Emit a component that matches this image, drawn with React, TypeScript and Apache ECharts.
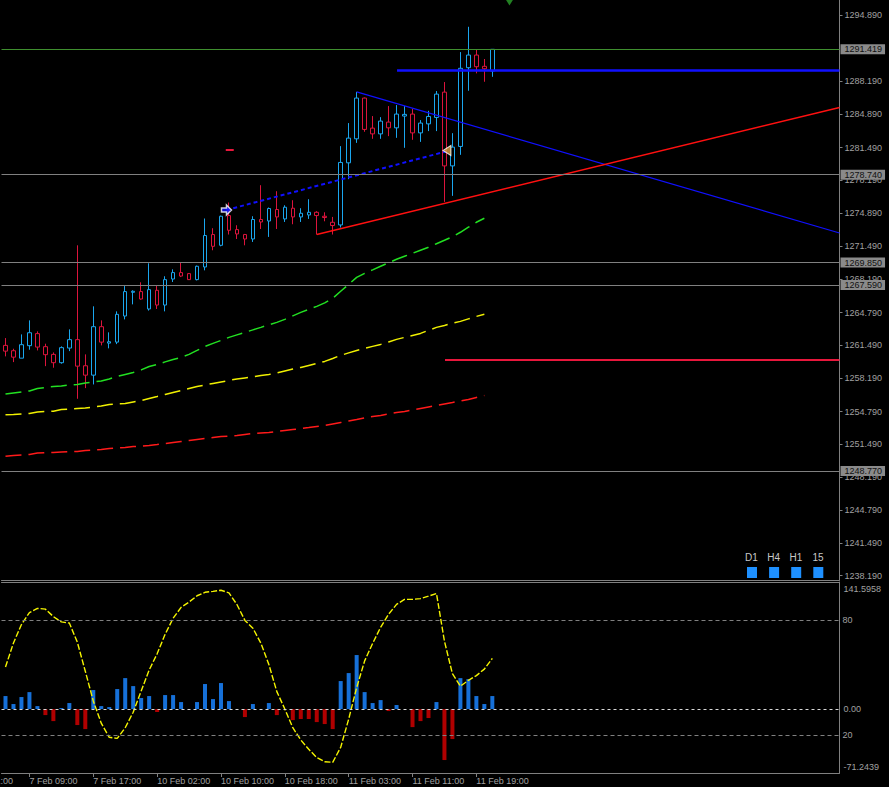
import React, { useEffect, useRef } from "react";
import * as echarts from "echarts";

// ---------- data ----------
const times = [
  "7 Feb 06:00", "7 Feb 07:00", "7 Feb 08:00", "7 Feb 09:00", "7 Feb 10:00", "7 Feb 11:00", "7 Feb 12:00",
  "7 Feb 13:00", "7 Feb 14:00", "7 Feb 15:00", "7 Feb 16:00", "7 Feb 17:00", "7 Feb 18:00", "7 Feb 19:00",
  "7 Feb 20:00", "7 Feb 21:00", "7 Feb 22:00",
  "10 Feb 00:00", "10 Feb 01:00", "10 Feb 02:00", "10 Feb 03:00", "10 Feb 04:00", "10 Feb 05:00", "10 Feb 06:00",
  "10 Feb 07:00", "10 Feb 08:00", "10 Feb 09:00", "10 Feb 10:00", "10 Feb 11:00", "10 Feb 12:00", "10 Feb 13:00",
  "10 Feb 14:00", "10 Feb 15:00", "10 Feb 16:00", "10 Feb 17:00", "10 Feb 18:00", "10 Feb 19:00", "10 Feb 20:00",
  "10 Feb 21:00", "10 Feb 22:00",
  "11 Feb 00:00", "11 Feb 01:00", "11 Feb 02:00", "11 Feb 03:00", "11 Feb 04:00", "11 Feb 05:00", "11 Feb 06:00",
  "11 Feb 07:00", "11 Feb 08:00", "11 Feb 09:00", "11 Feb 10:00", "11 Feb 11:00", "11 Feb 12:00", "11 Feb 13:00",
  "11 Feb 14:00", "11 Feb 15:00", "11 Feb 16:00", "11 Feb 17:00", "11 Feb 18:00", "11 Feb 19:00", "11 Feb 20:00",
  "11 Feb 21:00",
];
const timeLabelIdx = [3, 11, 19, 27, 35, 43, 51, 59];
const hiddenLeftLabel = "7 Feb 01:00";

const open = [
  1261.48, 1260.94, 1260.19, 1261.45, 1262.67, 1261.35, 1260.57, 1259.73, 1261.21, 1262.06,
  1259.42, 1258.47, 1263.37, 1261.71, 1261.81, 1264.45, 1266.85, 1266.92, 1265.16, 1267.05,
  1265.56, 1268.19, 1268.84, 1268.74, 1268.13, 1269.41, 1272.69, 1271.60, 1274.61, 1273.19,
  1272.69, 1272.24, 1274.21, 1274.06, 1275.22, 1274.27, 1275.35, 1274.47, 1274.67, 1274.94,
  1274.54, 1273.93, 1273.66, 1279.94, 1282.37, 1286.49, 1283.45, 1282.87, 1284.06, 1283.48,
  1284.67, 1284.87, 1282.97, 1283.88, 1284.53, 1287.09, 1279.63, 1281.60, 1289.56, 1290.84,
  1289.70, 1289.22,
];
const high = [
  1262.22, 1261.14, 1262.59, 1264.01, 1262.90, 1261.65, 1260.77, 1261.38, 1263.10, 1271.60,
  1260.57, 1265.43, 1264.01, 1262.80, 1264.92, 1267.48, 1267.05, 1267.86, 1269.78, 1267.55,
  1268.47, 1269.17, 1269.85, 1268.80, 1269.55, 1274.31, 1273.33, 1274.60, 1275.93, 1273.63,
  1272.75, 1274.54, 1277.68, 1275.42, 1277.07, 1275.65, 1276.16, 1275.35, 1276.26, 1275.05,
  1274.94, 1274.47, 1281.63, 1283.96, 1287.12, 1286.55, 1284.67, 1284.56, 1285.68, 1285.78,
  1285.68, 1285.40, 1284.26, 1285.20, 1287.20, 1288.11, 1282.94, 1291.14, 1293.70, 1291.42,
  1290.44, 1291.42,
];
const low = [
  1260.37, 1259.79, 1260.19, 1261.04, 1260.97, 1259.38, 1259.22, 1259.63, 1260.90, 1256.08,
  1257.16, 1257.53, 1261.48, 1261.18, 1261.61, 1264.11, 1265.63, 1266.10, 1265.00, 1265.16,
  1264.92, 1267.89, 1268.39, 1268.10, 1268.05, 1269.07, 1271.10, 1271.50, 1272.69, 1272.24,
  1271.60, 1271.94, 1273.25, 1272.45, 1273.25, 1273.96, 1273.73, 1273.96, 1274.27, 1272.69,
  1274.03, 1272.69, 1273.40, 1278.29, 1281.96, 1283.08, 1282.37, 1282.37, 1282.64, 1282.47,
  1281.46, 1282.27, 1282.06, 1283.15, 1283.15, 1275.99, 1276.60, 1280.75, 1287.23, 1288.99,
  1288.14, 1288.64,
];
const close = [
  1260.90, 1260.29, 1261.55, 1262.76, 1261.31, 1260.54, 1259.73, 1261.25, 1262.06, 1259.38,
  1258.47, 1263.37, 1261.81, 1261.85, 1264.62, 1266.92, 1266.95, 1266.17, 1267.12, 1265.56,
  1268.13, 1268.84, 1268.49, 1268.13, 1269.48, 1272.59, 1271.50, 1274.54, 1273.12, 1272.75,
  1272.24, 1274.21, 1273.96, 1275.32, 1274.47, 1275.45, 1274.47, 1274.84, 1274.94, 1274.61,
  1274.41, 1273.60, 1279.98, 1282.44, 1286.49, 1283.32, 1282.87, 1284.16, 1283.48, 1284.87,
  1284.84, 1282.97, 1283.96, 1284.63, 1286.89, 1279.63, 1281.53, 1289.50, 1290.84, 1289.66,
  1289.45, 1291.42,
];

const maFast = [
  1256.57, 1256.67, 1256.77, 1256.87, 1257.12, 1257.22, 1257.32, 1257.38, 1257.48, 1257.53,
  1257.68, 1257.78, 1257.88, 1258.09, 1258.34, 1258.54, 1258.74, 1259.00, 1259.35, 1259.55,
  1259.81, 1260.06, 1260.26, 1260.57, 1260.97, 1261.38, 1261.68, 1261.98, 1262.29, 1262.54,
  1262.79, 1263.05, 1263.30, 1263.56, 1263.81, 1264.11, 1264.47, 1264.82, 1265.12, 1265.43,
  1265.78, 1266.24, 1266.95, 1267.65, 1268.36, 1268.77, 1269.12, 1269.48, 1269.83, 1270.19,
  1270.49, 1270.79, 1271.10, 1271.40, 1271.76, 1272.11, 1272.47, 1272.92, 1273.43, 1273.93,
  1274.34,
];
const maMid = [
  1254.46, 1254.49, 1254.54, 1254.59, 1254.74, 1254.79, 1254.82, 1254.99, 1255.05, 1255.10,
  1255.15, 1255.25, 1255.35, 1255.50, 1255.55, 1255.60, 1255.76, 1255.91, 1256.11, 1256.31,
  1256.52, 1256.72, 1256.92, 1257.12, 1257.32, 1257.48, 1257.63, 1257.78, 1257.93, 1258.09,
  1258.19, 1258.29, 1258.44, 1258.54, 1258.69, 1258.90, 1259.10, 1259.25, 1259.45, 1259.65,
  1259.86, 1260.16, 1260.47, 1260.72, 1260.97, 1261.17, 1261.38, 1261.58, 1261.83, 1262.09,
  1262.29, 1262.49, 1262.69, 1263.00, 1263.30, 1263.50, 1263.71, 1263.91, 1264.16, 1264.41,
  1264.62,
];
const maSlow = [
  1250.27, 1250.34, 1250.39, 1250.44, 1250.59, 1250.64, 1250.64, 1250.69, 1250.74, 1250.74,
  1250.85, 1250.90, 1250.95, 1251.05, 1251.10, 1251.15, 1251.25, 1251.30, 1251.35, 1251.45,
  1251.56, 1251.66, 1251.76, 1251.86, 1251.96, 1252.06, 1252.16, 1252.26, 1252.31, 1252.37,
  1252.47, 1252.57, 1252.62, 1252.67, 1252.77, 1252.87, 1252.97, 1253.07, 1253.17, 1253.28,
  1253.38, 1253.53, 1253.68, 1253.83, 1253.98, 1254.14, 1254.29, 1254.39, 1254.54, 1254.69,
  1254.79, 1254.95, 1255.10, 1255.25, 1255.40, 1255.55, 1255.70, 1255.86, 1256.01, 1256.21,
  1256.41,
];

const histValues = [
  14.5, 5.6, 13.4, 18.9, 3.3, -6.7, -13.4, 1.1, 6.7, -17.8,
  -22.3, 21.2, 3.3, 2.2, 22.3, 34.5, 25.6, 12.3, 14.5, -3.3,
  15.6, 15.6, 7.8, 0, 7.8, 27.9, 11.1, 29.0, 8.9, 0,
  -8.9, 5.6, 0, 6.7, -6.7, 0, -12.3, -11.1, -11.1, -14.5,
  -16.7, -22.3, 31.2, 40.1, 60.2, 18.9, 6.7, 10.0, -2.2, 4.5,
  0, -20.1, -13.4, -10.0, 7.8, -56.8, -33.4, 34.5, 33.4, 14.5,
  5.6, 14.5,
];
const stochValues = [
  55.5, 68.1, 77.7, 84.0, 86.2, 85.8, 81.9, 79.1, 78.5, 68.5,
  53.3, 37.7, 26.1, 18.7, 18.1, 23.7, 31.8, 42.9, 53.9, 62.4,
  72.6, 81.0, 86.7, 89.5, 92.8, 94.6, 95.1, 95.7, 94.3, 88.2,
  79.9, 75.8, 68.0, 56.8, 42.6, 33.5, 23.7, 17.3, 12.4, 8.1,
  5.9, 5.6, 13.4, 28.2, 44.7, 58.7, 67.8, 76.3, 83.1, 88.3,
  90.9, 90.9, 91.3, 92.6, 94.0, 69.0, 52.0, 45.5, 48.5, 51.0,
  54.4, 60.0,
];

const priceTicks = [
  1294.89, 1288.19, 1284.89, 1281.49, 1278.19, 1274.89, 1271.49, 1268.19, 1264.79,
  1261.49, 1258.19, 1254.79, 1251.49, 1248.19, 1244.79, 1241.49, 1238.19,
];
const priceLevels = [1291.419, 1278.74, 1269.85, 1267.59, 1248.77];
const histTicks = [141.5958, 0, -71.2439];
const stochLevels = [80, 20];
const tfLabels = ["D1", "H4", "H1", "15"];

// drawn objects: [bar position, price]
const trendDown = [[44, 1287.12], [104.5, 1272.85]];
const trendUp = [[39, 1272.69], [104.5, 1285.54]];
const dottedTrend = [[27.69, 1275.17], [55.2, 1281.09]];
const blueLevel = [[49.06, 1289.28], [104.5, 1289.28]];
const redLevel = [[55.07, 1260.0], [104.5, 1260.0]];
const redDash = [[27.6, 1281.24], [28.6, 1281.24]];
const buyArrow = [[27.69, 1275.17]];
const sellArrow = [[55.32, 1281.19]];
const topSignal = [[63.15, 1296.3]];

const SLOTS = 105;

export default function App() {
  const ref = useRef<HTMLDivElement>(null);
  useEffect(() => {
    if (!ref.current) return;
    const chart = echarts.init(ref.current, null, { renderer: "svg" });
    const cats = times.concat(
      Array.from({ length: SLOTS - times.length }, (_, i) => "_" + i)
    );
    const labelSet = new Set(timeLabelIdx);
    const gray = "#808080";
    const txt = "#a0a0a0";
    const font = "Liberation Sans";
    const bull = "#1aa6ee";
    const bear = "#dc143c";

    const overlay = (data: number[][], color: string, width: number, type: any = "solid") => ({
      type: "line",
      xAxisIndex: 1,
      yAxisIndex: 0,
      data,
      showSymbol: false,
      silent: true,
      z: 4,
      lineStyle: { color, width, type },
    });

    const option: any = {
      animation: false,
      backgroundColor: "#000000",
      textStyle: { fontFamily: font },
      grid: [
        { left: 1.5, right: 49.5, top: 0, height: 580, outerBoundsMode: "none", containLabel: false },
        { left: 1.5, right: 49.5, top: 582, height: 191, outerBoundsMode: "none", containLabel: false },
      ],
      xAxis: [
        {
          type: "category", gridIndex: 0, data: cats, boundaryGap: true,
          axisLine: { show: true, onZero: false, lineStyle: { color: gray } },
          axisTick: { show: false }, axisLabel: { show: false }, splitLine: { show: false },
        },
        {
          type: "value", gridIndex: 0, min: -0.5, max: 104.5, show: false,
          axisLine: { show: false, onZero: false }, splitLine: { show: false },
        },
        {
          type: "category", gridIndex: 1, data: cats, boundaryGap: true,
          axisLine: { show: true, onZero: false, lineStyle: { color: gray } },
          axisTick: {
            show: true, interval: (i: number) => labelSet.has(i), alignWithLabel: true,
            length: 4, lineStyle: { color: gray },
          },
          axisLabel: {
            show: true, interval: (i: number) => labelSet.has(i), align: "left",
            color: txt, fontSize: 9, margin: 3, fontFamily: font,
          },
          splitLine: { show: false },
        },
        {
          type: "category", gridIndex: 1, data: cats, position: "top",
          axisLine: { show: true, onZero: false, lineStyle: { color: gray } },
          axisTick: { show: false }, axisLabel: { show: false }, splitLine: { show: false },
        },
      ],
      yAxis: [
        {
          type: "value", gridIndex: 0, position: "right", min: 1237.755, max: 1296.407,
          splitLine: { show: false },
          axisLine: { show: true, onZero: false, lineStyle: { color: gray } },
          axisTick: { show: true, customValues: priceTicks, length: 3, lineStyle: { color: gray } },
          axisLabel: {
            customValues: priceTicks, formatter: (v: number) => v.toFixed(3),
            color: txt, fontSize: 9, margin: 5, fontFamily: font,
          },
        },
        {
          type: "value", gridIndex: 1, position: "right", min: -71.2439, max: 141.5958,
          splitLine: { show: false },
          axisLine: { show: true, onZero: false, lineStyle: { color: gray } },
          axisTick: { show: false },
          axisLabel: {
            customValues: histTicks,
            formatter: (v: number) => {
              if (Math.abs(v - histTicks[0]) < 1e-6) return "{top|" + v.toFixed(4) + "}";
              if (Math.abs(v - histTicks[2]) < 1e-6) return "{bot|" + v.toFixed(4) + "}";
              return v.toFixed(2);
            },
            color: txt, fontSize: 9, margin: 4, fontFamily: font,
            rich: {
              top: { color: txt, fontSize: 9, fontFamily: font, padding: [13, 0, 0, 0] },
              bot: { color: txt, fontSize: 9, fontFamily: font, padding: [0, 0, 12, 0] },
            },
          },
        },
        {
          type: "value", gridIndex: 1, position: "right", min: 0, max: 100,
          splitLine: { show: false }, axisLine: { show: false, onZero: false }, axisTick: { show: false },
          axisLabel: {
            customValues: stochLevels, formatter: (v: number) => String(v),
            color: txt, fontSize: 9, margin: 3, fontFamily: font,
          },
        },
      ],
      series: [
        {
          type: "candlestick", xAxisIndex: 0, yAxisIndex: 0, barWidth: 4,
          data: open.map((o, i) => [o, close[i], low[i], high[i]]),
          itemStyle: { color: "#000000", color0: "#000000", borderColor: bull, borderColor0: bear, borderWidth: 1 },
          markLine: {
            silent: true, symbol: ["none", "none"], precision: 3,
            label: {
              show: true, position: "end", distance: 1,
              formatter: (p: any) => priceLevels[p.dataIndex].toFixed(3),
              backgroundColor: "#8a8a8a", color: "#111111", padding: [1, 3, 0, 4],
              fontSize: 9, lineHeight: 9, fontFamily: font,
            },
            lineStyle: { color: gray, width: 1, type: "solid" },
            data: priceLevels.map((v, i) => ({
              yAxis: v,
              lineStyle: { color: i === 0 ? "#3f8f2f" : gray, width: 1, type: "solid" },
            })),
          },
        },
        {
          type: "line", xAxisIndex: 0, yAxisIndex: 0, data: maFast, showSymbol: false, silent: true,
          lineStyle: { color: "#22e022", width: 1.5, type: [16, 7] },
        },
        {
          type: "line", xAxisIndex: 0, yAxisIndex: 0, data: maMid, showSymbol: false, silent: true,
          lineStyle: { color: "#f0f000", width: 1.5, type: [16, 7] },
        },
        {
          type: "line", xAxisIndex: 0, yAxisIndex: 0, data: maSlow, showSymbol: false, silent: true,
          lineStyle: { color: "#ff1a1a", width: 1.5, type: [16, 7] },
        },
        overlay(trendDown, "#1010ff", 1.2),
        overlay(trendUp, "#ff1010", 1.4),
        overlay(dottedTrend, "#1010ff", 2, [4, 3]),
        overlay(blueLevel, "#1010ff", 2.5),
        overlay(redLevel, "#e8173c", 2),
        overlay(redDash, "#e8173c", 2),
        {
          type: "scatter", xAxisIndex: 1, yAxisIndex: 0, data: buyArrow, silent: true, z: 5,
          symbol: "path://M0,3 L5,3 L5,0 L10,5 L5,10 L5,7 L0,7 Z", symbolSize: [10, 10],
          itemStyle: { color: "#1010ff", borderColor: "#ffffff", borderWidth: 1.5 },
        },
        {
          type: "scatter", xAxisIndex: 1, yAxisIndex: 0, data: sellArrow, silent: true, z: 5,
          symbol: "triangle", symbolRotate: 90, symbolSize: [10, 8],
          itemStyle: { color: "#e0a040", borderColor: "#ffffff", borderWidth: 1 },
        },
        {
          type: "scatter", xAxisIndex: 1, yAxisIndex: 0, data: topSignal, silent: true, z: 5, clip: false,
          symbol: "triangle", symbolRotate: 180, symbolSize: [11, 9],
          itemStyle: { color: "#2aa02a" },
        },
        {
          type: "bar", xAxisIndex: 2, yAxisIndex: 1, data: histValues, barWidth: 4, silent: true,
          itemStyle: { color: (p: any) => (p.value >= 0 ? "#1670d8" : "#b00000") },
          markLine: {
            silent: true, symbol: ["none", "none"], label: { show: false },
            lineStyle: { color: "#d8d8d8", width: 1, type: [3, 3] },
            data: [{ yAxis: 0 }],
          },
        },
        {
          type: "line", xAxisIndex: 2, yAxisIndex: 2, data: stochValues, showSymbol: false, silent: true,
          lineStyle: { color: "#f5f500", width: 1.4, type: [6, 2] },
          markLine: {
            silent: true, symbol: ["none", "none"], label: { show: false },
            lineStyle: { color: gray, width: 1, type: [4, 3] },
            data: stochLevels.map((v) => ({ yAxis: v })),
          },
        },
      ],
      graphic: [
        {
          type: "text", x: -35, y: 776, silent: true,
          style: { text: hiddenLeftLabel, fill: txt, font: '9px "Liberation Sans"', textVerticalAlign: "top" },
        },
        ...tfLabels.map((t, i) => ({
          type: "text", x: 751.5 + i * 22.2, y: 557, silent: true,
          style: {
            text: t, fill: "#c8c8c8", font: '10px "Liberation Sans"',
            textAlign: "center", textVerticalAlign: "middle",
          },
        })),
        ...tfLabels.map((_, i) => ({
          type: "rect", silent: true,
          shape: { x: 747 + i * 22.1, y: 567, width: 10, height: 11 },
          style: { fill: "#1e90ff" },
        })),
      ],
    };
    chart.setOption(option);
    return () => chart.dispose();
  }, []);
  return (
    <div
      ref={ref}
      style={{ position: "absolute", left: 0, top: 0, width: 889, height: 787, background: "#000" }}
    />
  );
}
